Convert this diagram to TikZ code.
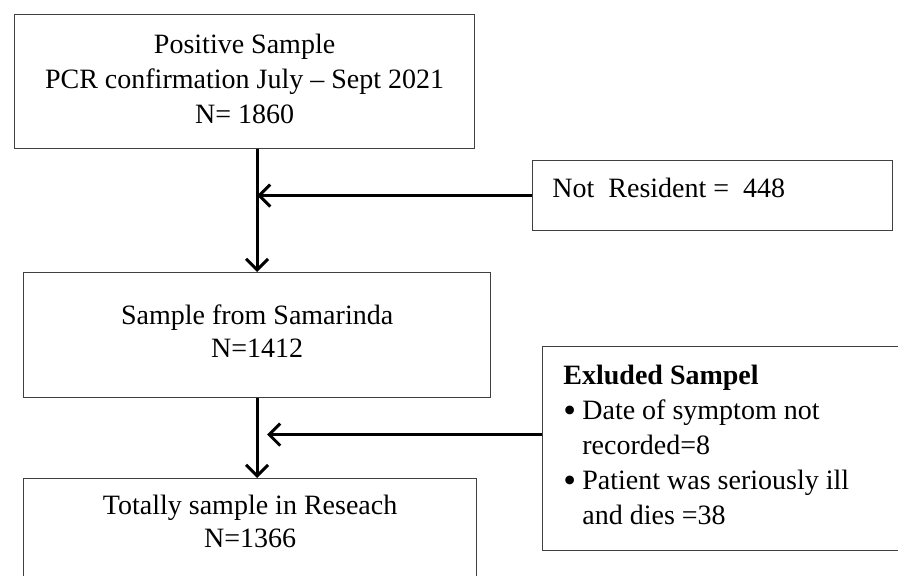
\documentclass[tikz,border=0pt]{standalone}
\usepackage{fontspec}
\setmainfont{Liberation Serif}
\usepackage{tikz}
\usetikzlibrary{arrows.meta,positioning,calc}
\tikzstyle{box} = [rectangle, draw=black!75, line width=0.6pt, inner sep=0pt, anchor=north west]
\tikzstyle{txt} = [inner sep=0pt, font=\fontsize{14pt}{17.5pt}\selectfont]
\tikzstyle{arrow} = [line width=1.5pt, -{Straight Barb[length=5.5pt,width=11pt]}]
\newcommand{\bul}{\makebox[9.5pt][l]{\raisebox{-1.3pt}{\scalebox{1.3}{\textbullet}}}}

\begin{document}
\begin{tikzpicture}[x=0.5pt, y=-0.5pt]
  \useasboundingbox (0,0) rectangle (898,576);
  \clip (0,0) rectangle (898,576);
  % boxes
  \node (positive)[box, minimum width=230pt, minimum height=67pt] at (14,14) {};
  \node (notres)[box, minimum width=180pt, minimum height=35pt] at (532,160) {};
  \node (samarinda)[box, minimum width=233.5pt, minimum height=62.5pt] at (23,272) {};
  \node (excl)[box, minimum width=210pt, minimum height=102pt] at (542,346) {};
  \node (total)[box, minimum width=226.5pt, minimum height=60pt] at (23,478) {};
  % texts
  \node (positivetext)[txt, align=center, below=10pt of positive.north]
    {Positive Sample\\PCR confirmation July -- Sept 2021\\N= 1860};
  \node (notrestext)[txt, anchor=north west] at ([xshift=10pt,yshift=-9pt]notres.north west)
    {Not\ \ Resident =\ \ 448};
  \node (samarindatext)[txt, align=center, below=16pt of samarinda.north, font=\fontsize{14pt}{16.5pt}\selectfont]
    {Sample from Samarinda\\N=1412};
  \node (excltext)[txt, align=left, anchor=north west] at ([xshift=10.5pt,yshift=-9.5pt]excl.north west)
    {\textbf{Exluded Sampel}\\
     \bul Date of symptom not\\
     \hspace*{9.5pt}recorded=8\\
     \bul Patient was seriously ill\\
     \hspace*{9.5pt}and dies =38};
  \node (totaltext)[txt, align=center, below=8.5pt of total.north, font=\fontsize{14pt}{16.5pt}\selectfont]
    {Totally sample in Reseach\\N=1366};
  % connectors
  \coordinate (exit) at ([yshift=7pt]excl.west);
  \draw[arrow] (positive.south -| samarinda.north) -- (samarinda.north);
  \draw[arrow] (notres.west) -- (notres.west -| samarinda.north);
  \draw[arrow] (samarinda.south) -- (samarinda.south |- total.north);
  \draw[arrow] (exit) -- ($(exit -| samarinda.south)+(5pt,0)$);
\end{tikzpicture}
\end{document}
